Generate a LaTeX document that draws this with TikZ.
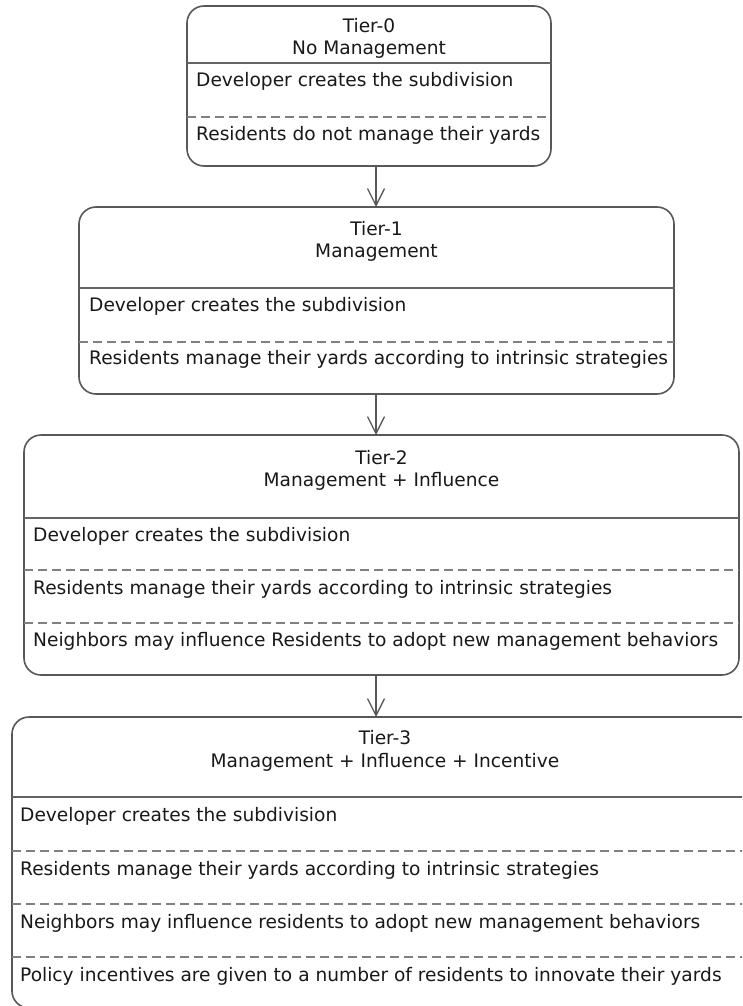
\documentclass[tikz,border=0pt]{standalone}
\usepackage{fontspec}
\setmainfont{DejaVu Sans}
\usetikzlibrary{arrows.meta}

\definecolor{frame}{RGB}{88,88,88}
\definecolor{rule}{RGB}{100,100,100}
\definecolor{dash}{RGB}{128,128,128}
\definecolor{ink}{RGB}{25,25,25}

\tikzset{
  tierbox/.style={draw=frame, line width=1.6pt, rounded corners=17pt,
    inner sep=0pt, outer sep=0pt},
  titletext/.style={anchor=base, inner sep=0pt, text=ink,
    font=\fontsize{18.6}{22}\selectfont},
  rowtext/.style={anchor=base west, inner sep=0pt, text=ink,
    font=\fontsize{18.6}{22}\selectfont},
  solidsep/.style={draw=rule, line width=1.6pt},
  dashsep/.style={draw=dash, line width=1.9pt, dash pattern=on 9pt off 5pt},
  link/.style={draw=frame, line width=1.3pt,
    -{Straight Barb[length=17pt,width=17pt,line width=1.3pt]}},
}

\begin{document}
\begin{tikzpicture}[x=1pt,y=-1pt]
\useasboundingbox (0,0) rectangle (742,1006);
\clip (0,0) rectangle (742,1006);
\fill[white] (0,0) rectangle (742,1006);

% column that the connectors follow
\coordinate (ax) at (376,0);

% ---- Tier 0 ----
\node[tierbox, minimum width=364pt, minimum height=160pt] (t0) at (369,86) {};
\node[titletext] (t0a) at (369,33) {Tier-0};
\node[titletext] (t0b) at (369,55) {No Management};
\draw[solidsep] (t0.west |- 0,63) -- (t0.east |- 0,63);
\node[rowtext] (t0r1) at ([xshift=9pt]t0.west |- 0,87) {Developer creates the subdivision};
\draw[dashsep] (t0.west |- 0,117) -- (t0.east |- 0,117);
\node[rowtext] (t0r2) at ([xshift=9pt]t0.west |- 0,140) {Residents do not manage their yards};

% ---- Tier 1 ----
\node[tierbox, minimum width=595pt, minimum height=187pt] (t1) at (376.5,300.5) {};
\node[titletext] (t1a) at (376.5,235) {Tier-1};
\node[titletext] (t1b) at (376.5,257) {Management};
\draw[solidsep] (t1.west |- 0,288) -- (t1.east |- 0,288);
\node[rowtext] (t1r1) at ([xshift=10pt]t1.west |- 0,311) {Developer creates the subdivision};
\draw[dashsep] (t1.west |- 0,342) -- (t1.east |- 0,342);
\node[rowtext] (t1r2) at ([xshift=10pt]t1.west |- 0,364) {Residents manage their yards according to intrinsic strategies};

% ---- Tier 2 ----
\node[tierbox, minimum width=715pt, minimum height=240pt] (t2) at (381.5,555) {};
\node[titletext] (t2a) at (381.5,464) {Tier-2};
\node[titletext] (t2b) at (381.5,486) {Management + Influence};
\draw[solidsep] (t2.west |- 0,518) -- (t2.east |- 0,518);
\node[rowtext] (t2r1) at ([xshift=9pt]t2.west |- 0,541) {Developer creates the subdivision};
\draw[dashsep] (t2.west |- 0,570) -- (t2.east |- 0,570);
\node[rowtext] (t2r2) at ([xshift=9pt]t2.west |- 0,594) {Residents manage their yards according to intrinsic strategies};
\draw[dashsep] (t2.west |- 0,623) -- (t2.east |- 0,623);
\node[rowtext] (t2r3) at ([xshift=9pt]t2.west |- 0,646) {Neighbors may influence Residents to adopt new management behaviors};

% ---- Tier 3 ----
\node[tierbox, minimum width=746pt, minimum height=291pt] (t3) at (385,862.5) {};
\node[titletext] (t3a) at (385,744) {Tier-3};
\node[titletext] (t3b) at (385,767) {Management + Influence + Incentive};
\draw[solidsep] (t3.west |- 0,797) -- (t3.east |- 0,797);
\node[rowtext] (t3r1) at ([xshift=8pt]t3.west |- 0,821) {Developer creates the subdivision};
\draw[dashsep] (t3.west |- 0,851) -- (t3.east |- 0,851);
\node[rowtext] (t3r2) at ([xshift=8pt]t3.west |- 0,875) {Residents manage their yards according to intrinsic strategies};
\draw[dashsep] (t3.west |- 0,904) -- (t3.east |- 0,904);
\node[rowtext] (t3r3) at ([xshift=8pt]t3.west |- 0,928) {Neighbors may influence residents to adopt new management behaviors};
\draw[dashsep] (t3.west |- 0,957) -- (t3.east |- 0,957);
\node[rowtext] (t3r4) at ([xshift=8pt]t3.west |- 0,981) {Policy incentives are given to a number of residents to innovate their yards};

% ---- connectors ----
\draw[link] (t0.south -| ax) -- (t1.north -| ax);
\draw[link] (t1.south -| ax) -- (t2.north -| ax);
\draw[link] (t2.south -| ax) -- (t3.north -| ax);
\end{tikzpicture}
\end{document}
